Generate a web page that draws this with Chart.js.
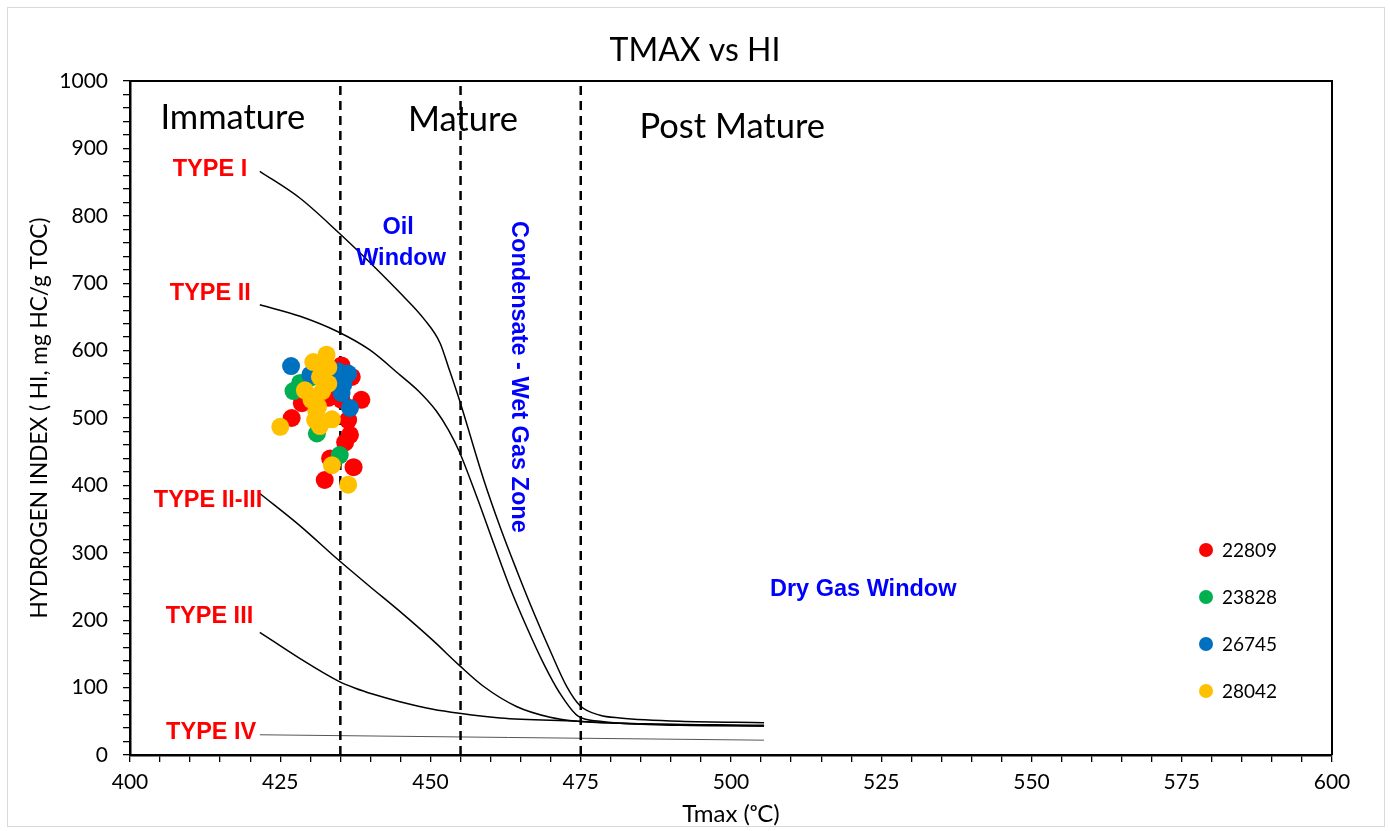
<!DOCTYPE html>
<html>
<head>
<meta charset="utf-8">
<script src="https://cdn.jsdelivr.net/npm/chart.js@4.4.1/dist/chart.umd.min.js"></script>
<style>
  html, body { margin: 0; padding: 0; background: #fff; }
  #wrap { position: relative; width: 1390px; height: 831px; }
  #frame { position: absolute; left: 7px; top: 7px; width: 1376px; height: 818px; border: 1px solid #d9d9d9; pointer-events: none; }
  canvas { position: absolute; left: 0; top: 0; }
</style>
</head>
<body>
<div id="wrap">
  <canvas id="tmaxChart" width="1390" height="831"></canvas>
  <div id="frame"></div>
</div>
<script>
// sample wells
const sampleNames = ['22809', '23828', '26745', '28042'];
const sampleColors = ['#ff0000', '#00b050', '#0070c0', '#ffc000'];

const tmax22809 = [426.9, 428.6, 435.2, 436.9, 438.5, 436.3, 436.6, 435.8, 433.3, 437.2, 432.4, 435.2, 434.0, 433.0];
const hi22809   = [500, 522, 578, 561, 527, 497, 475, 464, 440, 427, 408, 527, 545, 530];

const tmax23828 = [427.2, 428.3, 431.1, 434.9, 430.0];
const hi23828   = [540, 552, 477, 445, 560];

const tmax26745 = [426.8, 436.3, 436.6, 435.2, 430.0, 434.7, 435.5];
const hi26745   = [577, 566, 515, 537, 564, 569, 550];

const tmax28042 = [425.0, 432.7, 430.5, 429.1, 431.6, 433.0, 431.3, 430.8, 431.6, 433.6, 433.6, 436.3, 432.2, 430.2, 432.0, 431.0, 433.0];
const hi28042   = [487, 594, 583, 541, 561, 551, 517, 497, 488, 498, 430, 401, 571, 527, 540, 510, 575];

// kerogen type evolution curves
const type1X = [421.6, 428.3, 434.6, 440.0, 445.0, 449.0, 451.6, 453.0, 454.8, 458.8, 461.6, 464.3, 467.1, 469.9, 472.7, 474.9, 478.2, 481.5, 491.5, 505.5];
const type1Y = [866, 826, 776, 730, 685, 646, 611, 575, 527, 410, 338, 275, 213, 155, 101, 73, 59, 55, 50, 48];

const type2X = [421.6, 428.3, 434.6, 439.9, 444.9, 448.0, 451.0, 453.0, 454.8, 457.7, 460.5, 463.2, 466.0, 468.8, 471.5, 474.5, 478.2, 481.5, 491.5, 505.5];
const type2Y = [668, 651, 628, 601, 564, 540, 510, 482, 450, 383, 314, 249, 190, 136, 92, 58, 50, 47, 44, 43];

const type23X = [421.6, 428.3, 434.6, 439.9, 444.9, 450.4, 454.8, 458.8, 464.3, 469.9, 474.5, 481.5, 505.5];
const type23Y = [388, 340, 290, 250, 213, 170, 133, 102, 72, 56, 50, 47, 43];

const type3X = [421.6, 428.3, 434.6, 437.5, 440.5, 444.9, 450.4, 454.8, 461.6, 474.5, 481.5, 505.5];
const type3Y = [182, 143, 110, 99, 90, 79, 68, 62, 55, 50, 47, 44];

const type4X = [421.6, 463.0, 505.5];
const type4Y = [30, 26, 22];

// maturity boundaries (Tmax, oC)
const zoneLimits = [435, 455, 475];

// text labels, anchored in data units
const curveLabels = [
  { text: 'TYPE I', x: 419.5, y: 868 },
  { text: 'TYPE II', x: 420.1, y: 685 },
  { text: 'TYPE II-III', x: 422.0, y: 378 },
  { text: 'TYPE III', x: 420.5, y: 205 },
  { text: 'TYPE IV', x: 421.0, y: 34 }
];
const zoneLabels = [
  { text: 'Immature', x: 417.1, y: 946 },
  { text: 'Mature', x: 455.4, y: 942 },
  { text: 'Post Mature', x: 500.2, y: 932 }
];
const windowLabels = [
  { text: 'Oil', x: 444.6, y: 783, rot: 0 },
  { text: 'Window', x: 445.1, y: 736, rot: 0 },
  { text: 'Condensate - Wet Gas Zone', x: 464.6, y: 561, rot: 90 },
  { text: 'Dry Gas Window', x: 522.0, y: 246, rot: 0 }
];

const zip = (xs, ys) => xs.map((x, i) => ({ x, y: ys[i] }));

function curve(xs, ys, color, width) {
  return {
    data: zip(xs, ys),
    showLine: true,
    borderColor: color,
    borderWidth: width,
    pointRadius: 0,
    cubicInterpolationMode: 'monotone',
    order: 10
  };
}

const datasets = [];
[[tmax22809, hi22809], [tmax23828, hi23828], [tmax26745, hi26745], [tmax28042, hi28042]].forEach((s, i) => {
  datasets.push({
    label: sampleNames[i],
    data: zip(s[0], s[1]),
    backgroundColor: sampleColors[i],
    borderWidth: 0,
    pointRadius: 9,
    showLine: false,
    order: 4 - i
  });
});
datasets.push(curve(type1X, type1Y, '#000', 1.5));
datasets.push(curve(type2X, type2Y, '#000', 1.5));
datasets.push(curve(type23X, type23Y, '#000', 1.5));
datasets.push(curve(type3X, type3Y, '#000', 1.5));
datasets.push(curve(type4X, type4Y, '#555', 1));
zoneLimits.forEach(t => {
  datasets.push({
    data: [{ x: t, y: 0 }, { x: t, y: 995 }],
    showLine: true,
    borderColor: '#000',
    borderWidth: 2.5,
    borderDash: [9, 6],
    pointRadius: 0,
    order: 9
  });
});

const calibri = 'Lato, "Open Sans", sans-serif';
const arialBold = 'bold 23.5px "Liberation Sans", Arial, sans-serif';

const overlayPlugin = {
  id: 'overlay',
  afterDatasetsDraw(chart) {
    const { ctx, chartArea, scales: { x, y } } = chart;
    ctx.save();
    // plot frame top/right
    ctx.strokeStyle = '#000';
    ctx.lineWidth = 2;
    ctx.beginPath();
    ctx.moveTo(chartArea.left, chartArea.top);
    ctx.lineTo(chartArea.right, chartArea.top);
    ctx.lineTo(chartArea.right, chartArea.bottom);
    ctx.stroke();

    ctx.textBaseline = 'middle';
    ctx.font = arialBold;
    ctx.fillStyle = '#ff0000';
    ctx.textAlign = 'right';
    curveLabels.forEach(l => ctx.fillText(l.text, x.getPixelForValue(l.x), y.getPixelForValue(l.y)));

    ctx.font = '34.5px ' + calibri;
    ctx.fillStyle = '#000';
    ctx.textAlign = 'center';
    zoneLabels.forEach(l => ctx.fillText(l.text, x.getPixelForValue(l.x), y.getPixelForValue(l.y)));

    ctx.font = arialBold;
    ctx.fillStyle = '#0000ff';
    windowLabels.forEach(l => {
      ctx.save();
      ctx.translate(x.getPixelForValue(l.x), y.getPixelForValue(l.y));
      ctx.rotate(l.rot * Math.PI / 180);
      ctx.fillText(l.text, 0, 0);
      ctx.restore();
    });

    // legend
    ctx.font = '19px ' + calibri;
    ctx.textAlign = 'left';
    const lx = chartArea.right - 126;
    chart.data.datasets.filter(d => d.label).forEach((d, i) => {
      const ly = chartArea.top + 469 + i * 47;
      ctx.fillStyle = d.backgroundColor;
      ctx.beginPath();
      ctx.arc(lx, ly, 7, 0, Math.PI * 2);
      ctx.fill();
      ctx.fillStyle = '#000';
      ctx.fillText(d.label, lx + 16, ly + 1);
    });
    ctx.restore();
  }
};

const tickFont = { family: calibri, size: 21 };

new Chart(document.getElementById('tmaxChart'), {
  type: 'scatter',
  data: { datasets },
  options: {
    responsive: false,
    animation: false,
    layout: { padding: 0 },
    plugins: {
      legend: { display: false },
      tooltip: { enabled: false },
      title: {
        display: true,
        text: 'TMAX vs HI',
        color: '#000',
        font: { family: calibri, size: 32, weight: 'normal' },
        padding: { top: 31, bottom: 11.6 }
      }
    },
    scales: {
      x: {
        type: 'linear',
        min: 400,
        max: 600,
        afterFit: s => { s.height = 76; },
        ticks: {
          stepSize: 5,
          maxTicksLimit: 60,
          autoSkip: false,
          maxRotation: 0,
          color: '#000',
          font: tickFont,
          padding: 8,
          callback: v => (v % 25 === 0 ? v : '')
        },
        grid: { drawOnChartArea: false, tickLength: 7, color: '#000', lineWidth: 1.3 },
        border: { color: '#000', width: 2.5 },
        title: {
          display: true,
          text: 'Tmax (ᵒC)',
          color: '#000',
          font: { family: calibri, size: 24 },
          padding: { top: 0, bottom: 2 }
        }
      },
      y: {
        min: 0,
        max: 1000,
        afterFit: s => { s.width = 130; },
        ticks: {
          stepSize: 20,
          maxTicksLimit: 60,
          autoSkip: false,
          color: '#000',
          font: tickFont,
          padding: 15,
          callback: v => (v % 100 === 0 ? v : '')
        },
        grid: { drawOnChartArea: false, tickLength: 7, color: '#000', lineWidth: 1.3 },
        border: { color: '#000', width: 2.5 },
        title: {
          display: true,
          text: 'HYDROGEN INDEX ( HI, mg HC/g TOC)',
          color: '#000',
          font: { family: calibri, size: 22.6 },
          padding: { top: 26, bottom: 0 }
        }
      },
      yRight: {
        position: 'right',
        display: true,
        min: 0,
        max: 1000,
        afterFit: s => { s.width = 58; },
        ticks: { display: false },
        grid: { display: false, drawTicks: false },
        border: { display: false }
      }
    }
  },
  plugins: [overlayPlugin]
});
</script>
</body>
</html>
